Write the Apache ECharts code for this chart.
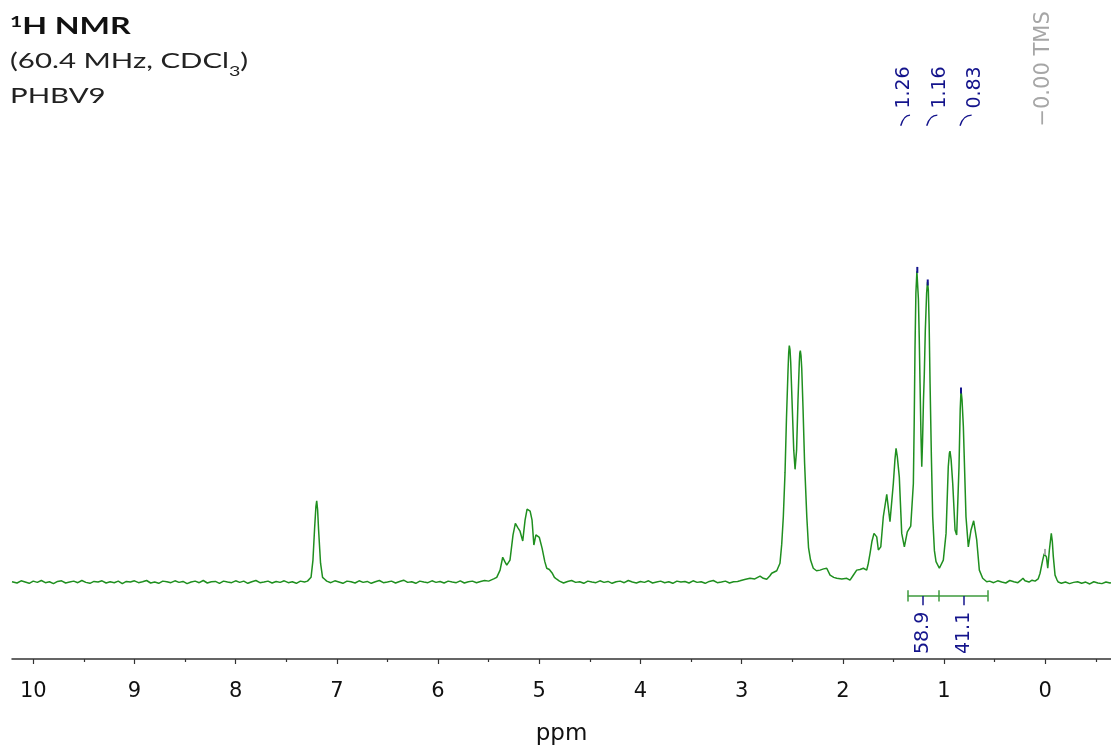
<!DOCTYPE html>
<html>
<head>
<meta charset="utf-8">
<title>1H NMR PHBV9</title>
<script src="https://cdn.jsdelivr.net/npm/echarts@6/dist/echarts.min.js"></script>
<style>
  html, body { margin: 0; padding: 0; background: #fff; }
  #nmr { width: 1111px; height: 751px; }
</style>
</head>
<body>
<div id="nmr"></div>
<script>
// spectrum: [ppm, intensity] (tallest peak ~100)
var spectrum = [
  [10.21,0.1],[10.20,0.2],[10.16,-0.3],[10.12,0.4],[10.08,0.0],[10.04,-0.4],[10.00,0.3],[9.96,-0.1],[9.92,0.5],[9.88,-0.2],
  [9.84,0.1],[9.80,-0.5],[9.76,0.2],[9.72,0.4],[9.68,-0.3],[9.64,0.0],[9.60,0.3],[9.56,-0.2],[9.52,0.5],[9.48,-0.1],
  [9.44,-0.4],[9.40,0.2],[9.36,0.0],[9.32,0.4],[9.28,-0.3],[9.24,0.1],[9.20,-0.2],[9.16,0.3],[9.12,-0.5],[9.08,0.2],
  [9.04,0.0],[9.00,0.4],[8.96,-0.2],[8.92,0.1],[8.88,0.5],[8.84,-0.3],[8.80,0.0],[8.76,-0.4],[8.72,0.3],[8.68,0.1],
  [8.64,-0.2],[8.60,0.4],[8.56,-0.1],[8.52,0.2],[8.48,-0.5],[8.44,0.0],[8.40,0.3],[8.36,-0.2],[8.32,0.5],[8.28,-0.3],
  [8.24,0.1],[8.20,0.2],[8.16,-0.4],[8.12,0.3],[8.08,0.0],[8.04,-0.2],[8.00,0.4],[7.96,-0.1],[7.92,0.3],[7.88,-0.4],
  [7.84,0.1],[7.80,0.5],[7.76,-0.2],[7.72,0.0],[7.68,0.3],[7.64,-0.3],[7.60,0.2],[7.56,-0.1],[7.52,0.4],[7.48,-0.2],
  [7.44,0.1],[7.40,-0.4],[7.36,0.3],[7.32,0.0],[7.29,0.3],
  [7.275,0.5],[7.255,1.5],[7.236,7],[7.22,17],[7.207,24],[7.199,25.9],[7.19,23],[7.181,17],[7.161,6],[7.141,1.5],[7.12,0.9],[7.10,0.3],
  [7.06,-0.2],[7.02,0.4],[6.98,0.0],[6.94,-0.4],[6.90,0.3],[6.86,0.1],[6.82,-0.3],[6.78,0.4],[6.74,-0.1],[6.70,0.2],
  [6.66,-0.4],[6.62,0.1],[6.58,0.5],[6.54,-0.2],[6.50,0.0],[6.46,0.3],[6.42,-0.3],[6.38,0.2],[6.34,0.6],[6.30,-0.1],
  [6.26,0.1],[6.22,-0.4],[6.18,0.3],[6.14,0.0],[6.10,-0.2],[6.06,0.4],[6.02,-0.1],[5.98,0.2],[5.94,-0.3],[5.90,0.3],
  [5.86,0.0],[5.82,-0.2],[5.78,0.4],[5.74,-0.3],[5.70,0.1],[5.66,0.3],[5.62,-0.2],[5.58,0.2],[5.54,0.5],[5.50,0.3],
  [5.486,0.6],[5.45,1.0],[5.42,1.5],[5.387,3.8],[5.361,7.9],[5.34,6.5],[5.321,5.4],[5.289,7.0],[5.259,15],[5.236,18.7],
  [5.209,17.2],[5.19,16.2],[5.163,13.1],[5.14,19.7],[5.12,23.2],[5.09,22.6],[5.071,19.7],[5.053,11.8],[5.033,15.0],[4.999,14.2],
  [4.972,10.8],[4.945,6.5],[4.926,4.4],[4.91,3.8],[4.90,4.0],[4.873,2.9],[4.85,1.5],[4.827,0.9],[4.80,0.3],
  [4.76,-0.3],[4.72,0.2],[4.68,0.5],[4.64,-0.1],[4.60,0.1],[4.56,-0.4],[4.52,0.3],[4.48,0.0],[4.44,-0.2],[4.40,0.4],
  [4.36,-0.1],[4.32,0.2],[4.28,-0.4],[4.24,0.1],[4.20,0.3],[4.16,-0.2],[4.12,0.5],[4.08,0.0],[4.04,-0.3],[4.00,0.2],
  [3.96,-0.1],[3.92,0.4],[3.88,-0.3],[3.84,0.0],[3.80,0.3],[3.76,-0.2],[3.72,0.1],[3.68,-0.4],[3.64,0.3],[3.60,0.0],
  [3.56,0.2],[3.52,-0.3],[3.48,0.4],[3.44,-0.1],[3.40,0.1],[3.36,-0.4],[3.32,0.2],[3.28,0.5],[3.24,-0.2],[3.20,0.0],
  [3.16,0.3],[3.12,-0.3],[3.08,0.1],[3.04,0.2],[3.016,0.4],[2.97,0.8],[2.917,1.2],[2.87,1.0],[2.818,1.9],[2.786,1.2],
  [2.752,0.9],[2.72,2.0],[2.703,2.8],[2.653,3.6],[2.621,6.0],[2.604,12],[2.588,20.8],[2.571,35],[2.557,52],[2.542,67],
  [2.535,73],[2.529,75.3],[2.522,74],[2.515,70],[2.499,55],[2.485,42],[2.472,35.9],[2.457,42],[2.443,58],[2.43,70],
  [2.425,73],[2.42,73.7],[2.413,72],[2.406,68],[2.393,55],[2.378,38],[2.356,20.8],[2.339,11],[2.319,7.0],[2.292,4.4],
  [2.26,3.6],[2.225,3.8],[2.19,4.2],[2.159,4.4],[2.126,2.2],[2.09,1.5],[2.06,1.2],[2.01,1.0],[1.961,1.2],[1.929,0.6],
  [1.90,2.0],[1.863,3.8],[1.83,4.0],[1.797,4.4],[1.764,3.8],[1.748,6.0],[1.731,9.1],[1.712,13],[1.692,15.5],[1.665,14.4],
  [1.649,10.2],[1.625,11.2],[1.60,20.8],[1.566,27.9],[1.534,19.2],[1.501,31.4],[1.485,39],[1.474,42.6],[1.462,40],[1.442,33.5],
  [1.418,15.5],[1.392,11.2],[1.363,16.0],[1.329,17.8],[1.303,31.4],[1.295,50],[1.287,73.9],[1.278,92],[1.268,99],[1.262,99.6],
  [1.253,90],[1.245,78],[1.237,63.3],[1.228,47],[1.22,36.7],[1.212,45],[1.203,58],[1.195,66],[1.185,80],[1.172,92],
  [1.163,95.6],[1.155,93],[1.147,82],[1.138,63.3],[1.125,40],[1.112,20.8],[1.095,10],[1.079,6.5],[1.046,4.4],[1.007,7.0],
  [0.98,15.5],[0.958,36.7],[0.947,41],[0.941,41.7],[0.93,39],[0.914,31.4],[0.891,16.6],[0.875,15.0],[0.852,36.7],[0.84,55],
  [0.832,61.1],[0.822,58],[0.809,49.5],[0.783,20.8],[0.76,11.2],[0.733,16.6],[0.707,19.5],[0.677,13.4],[0.651,3.8],[0.618,1.2],
  [0.578,0.1],[0.55,0.3],[0.51,-0.2],[0.47,0.4],[0.43,0.0],[0.39,-0.3],[0.35,0.5],[0.31,0.1],[0.27,-0.2],[0.24,0.6],
  [0.22,1.2],[0.20,0.4],[0.16,0.0],[0.13,0.6],[0.10,0.3],[0.07,1.0],[0.051,2.8],[0.025,7.0],[0.01,9.0],[0.002,9.6],
  [-0.012,8],[-0.025,4.4],[-0.041,10.2],[-0.06,15.5],[-0.07,13],[-0.08,8.1],[-0.097,2.2],[-0.115,0.8],[-0.129,0.0],[-0.16,-0.4],
  [-0.2,0.0],[-0.24,-0.5],[-0.28,-0.1],[-0.32,0.1],[-0.36,-0.4],[-0.40,0.0],[-0.44,-0.6],[-0.48,0.1],[-0.52,-0.3],[-0.56,-0.5],
  [-0.60,0.0],[-0.64,-0.3],[-0.65,-0.2]
];

// peak picks (top) and their labels
var peakPpm = [1.264, 1.161, 0.832];
var peakTop = [99.4, 95.4, 61.0];
var peakText = ['1.26', '1.16', '0.83'];
var peakTextPpm = [1.395, 1.040, 0.693];
var hookFromPpm = [1.428, 1.171, 0.842];
var hookToPpm = [1.336, 1.066, 0.727];

var tmsPpm = 0.002;
var tmsTop = 9.6;
var tmsText = '\u22120.00 TMS';

// integral bracket
var integralEdges = [1.359, 1.052, 0.568];
var integralText = ['58.9', '41.1'];
var integralTextPpm = [1.210, 0.802];

var majorTicks = [0, 1, 2, 3, 4, 5, 6, 7, 8, 9, 10];
var minorTicks = [-0.5, 0.5, 1.5, 2.5, 3.5, 4.5, 5.5, 6.5, 7.5, 8.5, 9.5];

var xMin = -0.65, xMax = 10.21;
var yMin = -24.5, yMax = 185.35;

var navy = '#14148c';
var green = '#1f8f1f';
var titleFont = 'Lato, "Noto Sans", sans-serif';
var axisFont = '"DejaVu Sans", sans-serif';

var chart = echarts.init(document.getElementById('nmr'));

var marks = [];
for (var i = 0; i < peakPpm.length; i++) {
  marks.push({ name: '', coord: [peakPpm[i], peakTop[i]], symbol: 'rect', symbolSize: [2, 6],
    itemStyle: { color: navy }, label: { show: false } });
  marks.push({ name: peakText[i], coord: [peakTextPpm[i], 157.5], symbol: 'rect', symbolSize: 0,
    label: { show: true, color: navy } });
}
marks.push({ name: '', coord: [tmsPpm, tmsTop], symbol: 'rect', symbolSize: [2, 6],
  itemStyle: { color: '#aaaaaa' }, label: { show: false } });
marks.push({ name: tmsText, coord: [0.012, 163.4], symbol: 'rect', symbolSize: 0,
  label: { show: true, color: '#a6a6a6', fontSize: 21 } });
for (var j = 0; j < integralText.length; j++) {
  marks.push({ name: integralText[j], coord: [integralTextPpm[j], -16.2], symbol: 'rect', symbolSize: 0,
    label: { show: true, color: navy } });
}

var barY = -4.46;
var integralLines = [
  [{ coord: [integralEdges[0], barY] }, { coord: [integralEdges[2], barY] }]
];
integralEdges.forEach(function (e) {
  integralLines.push([{ coord: [e, -2.6] }, { coord: [e, -6.2] }]);
});
integralTextPpm.forEach(function (p) {
  integralLines.push([{ coord: [p, barY], lineStyle: { color: navy, width: 1.5 } }, { coord: [p, -7.4] }]);
});

var option = {
  animation: false,
  backgroundColor: '#fff',
  grid: { left: 12, right: 0, top: 0, bottom: 92 },
  xAxis: [{
    type: 'value', inverse: true, min: xMin, max: xMax,
    name: 'ppm', nameLocation: 'middle', nameGap: 64,
    nameTextStyle: { fontFamily: axisFont, fontSize: 23, color: '#111' },
    axisLine: { show: true, onZero: false, lineStyle: { color: '#333', width: 1.5 } },
    axisTick: { show: true, customValues: majorTicks, length: 5, lineStyle: { color: '#333', width: 1.2 } },
    axisLabel: { customValues: majorTicks, fontFamily: axisFont, fontSize: 21, color: '#111', margin: 22 },
    splitLine: { show: false }
  }, {
    type: 'value', inverse: true, min: xMin, max: xMax, position: 'top', offset: -659,
    axisLine: { show: false, onZero: false },
    axisTick: { show: true, inside: true, customValues: minorTicks, length: 3, lineStyle: { color: '#333', width: 1.2 } },
    axisLabel: { show: false },
    splitLine: { show: false }
  }],
  yAxis: { type: 'value', min: yMin, max: yMax, show: false },
  series: [{
    type: 'line',
    data: spectrum,
    showSymbol: false,
    smooth: false,
    lineStyle: { color: green, width: 1.5 },
    silent: true,
    clip: false,
    markPoint: {
      silent: true,
      label: { position: 'inside', rotate: 90, fontFamily: axisFont, fontSize: 19, formatter: '{b}' },
      data: marks
    },
    markLine: {
      silent: true, symbol: 'none',
      label: { show: false },
      lineStyle: { color: '#3c9a3c', width: 1.5, type: 'solid' },
      data: integralLines
    }
  }]
};

chart.setOption(option);

// title block (the reference lettering is wide, so stretch it a little)
var graphics = [{
  type: 'text', x: 10, y: 9, scaleX: 1.4,
  style: {
    text: '{sup|1}{b|H NMR}\n{n|(60.4 MHz, CDCl}{sub|3}{n|)}\n{n|PHBV9}',
    verticalAlign: 'top',
    rich: {
      sup: { fontFamily: titleFont, fontWeight: 'bold', fontSize: 15, fill: '#111', lineHeight: 35, padding: [0, 0, 8, 0] },
      b: { fontFamily: titleFont, fontWeight: 'bold', fontSize: 23, fill: '#111', lineHeight: 35 },
      n: { fontFamily: titleFont, fontWeight: 'normal', fontSize: 21, fill: '#222', lineHeight: 35 },
      sub: { fontFamily: titleFont, fontWeight: 'normal', fontSize: 14, fill: '#222', lineHeight: 35, padding: [20, 0, 0, 0] }
    }
  }
}];

// small connector curves under the peak labels
for (var k = 0; k < hookFromPpm.length; k++) {
  var a = chart.convertToPixel({ gridIndex: 0 }, [hookFromPpm[k], 145.3]);
  var b = chart.convertToPixel({ gridIndex: 0 }, [hookToPpm[k], 148.7]);
  graphics.push({
    type: 'bezierCurve', silent: true,
    shape: { x1: a[0], y1: a[1], cpx1: a[0] + 2, cpy1: a[1] - 7, cpx2: b[0] - 5, cpy2: b[1], x2: b[0], y2: b[1] },
    style: { stroke: navy, lineWidth: 1.4, fill: null }
  });
}
chart.setOption({ graphic: graphics });
</script>
</body>
</html>
